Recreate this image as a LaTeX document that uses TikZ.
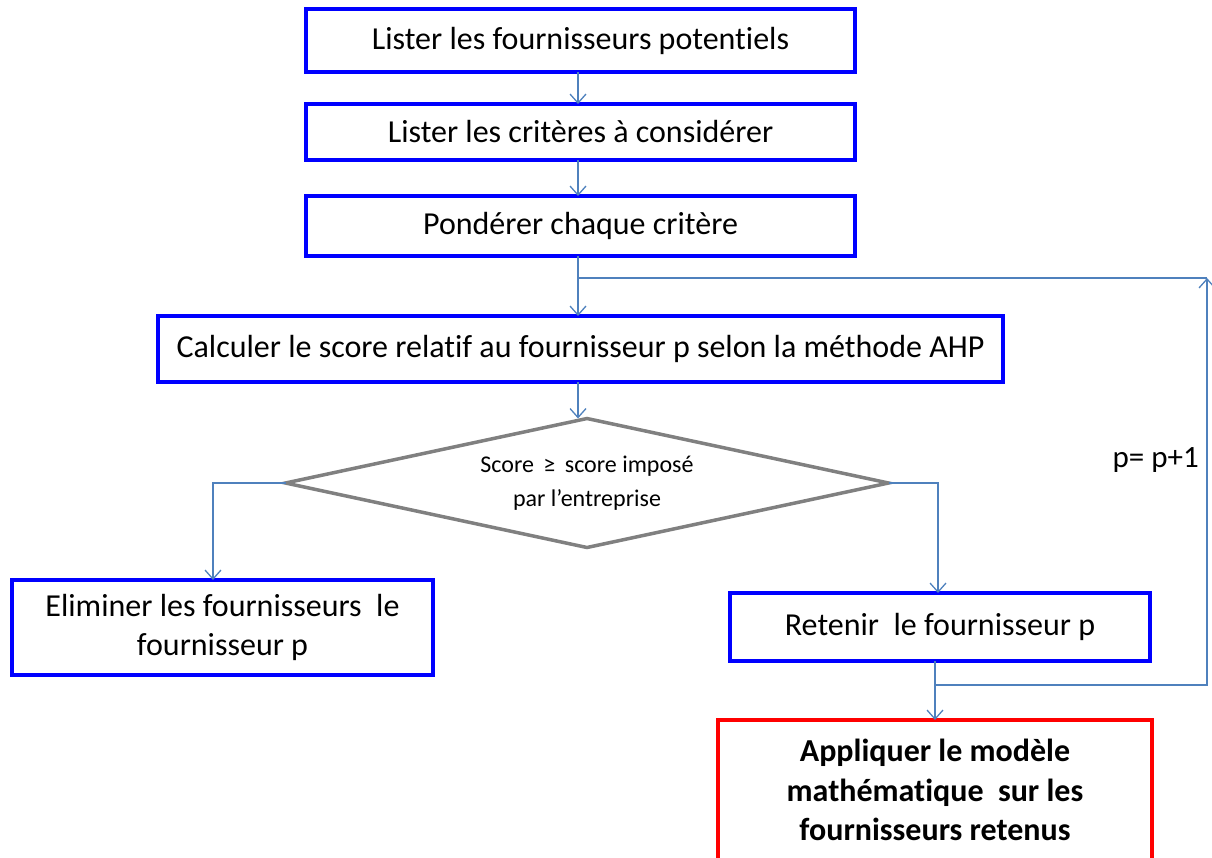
\documentclass[tikz,border=0pt]{standalone}
\usepackage{fontspec}
\setmainfont{Carlito}[Ligatures=NoCommon]
\usetikzlibrary{shapes.geometric,arrows.meta}
\definecolor{arrblue}{HTML}{4F81BD}
\definecolor{boxblue}{HTML}{0000FF}
\definecolor{boxred}{HTML}{FF0000}
\definecolor{dgray}{HTML}{808080}
\begin{document}
\begin{tikzpicture}[x=1pt,y=-1pt,
  stepbox/.style={draw=boxblue,line width=3.5pt,rectangle,inner sep=0pt,outer sep=0pt,align=center,font=\fontsize{32}{39}\selectfont},
  redbox/.style={draw=boxred,line width=3.5pt,rectangle,inner sep=0pt,outer sep=0pt,align=center,font=\fontsize{32}{39.5}\selectfont\bfseries},
  decis/.style={draw=dgray,line width=3.5pt,diamond,aspect=4.67,inner sep=0pt,outer sep=0pt,align=center,font=\fontsize{24}{34}\selectfont},
  conn/.style={draw=arrblue,line width=1.3pt},
  arr/.style={conn,-{Straight Barb[length=9pt,width=16pt,line width=1.3pt]}}
]
\useasboundingbox (0,0) rectangle (1212,857);
\begin{scope}
\clip (0,0) rectangle (1212,857);
\node[stepbox,minimum width=549pt,minimum height=63pt] (b1) at (580.5,40.5) {Lister les fournisseurs potentiels};
\node[stepbox,minimum width=549pt,minimum height=56pt] (b2) at (580.5,132) {Lister les critères à considérer};
\node[stepbox,minimum width=549pt,minimum height=60pt] (b3) at (580.5,226) {Pondérer chaque critère};
\node[stepbox,minimum width=845pt,minimum height=66pt] (b4) at (580.5,349) {Calculer le score relatif au fournisseur p selon la méthode AHP};
\node[decis,minimum width=603pt,minimum height=129pt] (d) at (587,483) {Score \,≥\, score imposé\\par l’entreprise};
\node[stepbox,minimum width=421pt,minimum height=95pt] (elim) at (222.5,627.5) {Eliminer les fournisseurs\ \ le\\fournisseur p};
\node[stepbox,minimum width=420pt,minimum height=68pt] (ret) at (940,627) {Retenir\ \ le fournisseur p};
\node[redbox,minimum width=434pt,minimum height=140pt,text depth=0pt] (red) at (935,790) {Appliquer le modèle\\mathématique\ \ sur les\\fournisseurs retenus};
\end{scope}
\node[font=\fontsize{31}{34}\selectfont,anchor=east,inner sep=0pt] (lbl) at (1199,460) {p= p+1};
\coordinate (j1) at (578,278);
\coordinate (c2) at (1207,278);
\coordinate (c3) at (1207,685);
\coordinate (c4) at (935,685);
\draw[arr] (b1.south -| j1) -- (b2.north -| j1);
\draw[arr] (b2.south -| j1) -- (b3.north -| j1);
\draw[arr] (b3.south -| j1) -- (b4.north -| j1);
\draw[arr] (b4.south -| j1) -- (d.north -| j1);
\draw[arr] (d.west) -| ([xshift=-9.5pt]elim.north);
\draw[arr] (d.east) -| ([xshift=-2pt]ret.north);
\draw[arr] (ret.south -| c4) -- (red.north);
\draw[arr] (c4) -- (c3) -- (c2);
\draw[conn] (c2) -- (j1);
\end{tikzpicture}
\end{document}
